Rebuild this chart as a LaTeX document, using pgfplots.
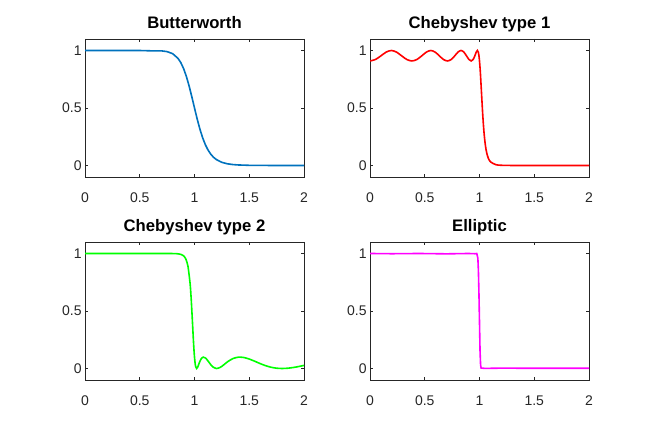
\documentclass[border=0pt]{standalone}
\usepackage{pgfplots}
\pgfplotsset{compat=1.18}
\usepackage{fontspec}
\setmainfont{Liberation Sans}
\definecolor{mblue}{rgb}{0,0.447,0.741}
\definecolor{mred}{rgb}{1,0,0}
\definecolor{mgreen}{rgb}{0,1,0}
\definecolor{mmag}{rgb}{1,0,1}
\definecolor{axgray}{rgb}{0.15,0.15,0.15}
\pgfplotsset{
  sub/.style={
    scale only axis, width=164.25pt, height=103.5pt,
    anchor=south west,
    xmin=0, xmax=2, ymin=-0.1, ymax=1.1,
    xtick={0,0.5,1,1.5,2}, ytick={0,0.5,1},
    tick align=inside, major tick length=2.5pt,
    axis line style={draw=axgray, line width=0.6pt},
    every tick/.style={draw=axgray, line width=0.5pt},
    /pgf/number format/assume math mode=true,
    tick label style={font=\fontsize{10.5}{12}\selectfont, text=axgray},
    xticklabel style={yshift=-8.5pt},
    yticklabel style={xshift=1pt},
    title style={font=\fontsize{12.5}{14}\selectfont\bfseries, text depth=0.25em, text height=0.75em, yshift=-4.5pt},
  }
}
\begin{document}
\begin{tikzpicture}
\useasboundingbox (0pt,0pt) rectangle (487.5pt,320.25pt);
% Butterworth
\begin{axis}[sub, at={(63.75pt,187.5pt)}, title={Butterworth}]
\addplot[mblue, line width=1.2pt] coordinates {
(0,1)(0.3,1)(0.5,0.9998)(0.6,0.9972)(0.7,0.9967)(0.75,0.9901)(0.8,0.9726)(0.85,0.9309)(0.875,0.8944)(0.9,0.8437)(0.925,0.7768)(0.95,0.6944)(0.975,0.5999)(1.0,0.5)(1.025,0.4025)(1.05,0.3142)(1.075,0.2392)(1.1,0.1787)(1.125,0.1319)(1.15,0.0965)(1.175,0.0704)(1.2,0.0513)(1.25,0.0274)(1.3,0.0148)(1.35,0.0081)(1.4,0.0046)(1.5,0.0015)(1.6,0.0005)(1.8,0.0001)(2,0)
};
\end{axis}
% Chebyshev type 1
\begin{axis}[sub, at={(277.5pt,187.5pt)}, title={Chebyshev type 1}]
\addplot[mred, line width=1.2pt, smooth, tension=0.5] coordinates {
(0,0.90909)(0.04907,0.92141)(0.09802,0.95238)(0.14673,0.98557)(0.19509,1)(0.24298,0.98557)(0.29028,0.95238)(0.33689,0.92141)(0.38268,0.90909)(0.42756,0.92141)(0.47140,0.95238)(0.51410,0.98557)(0.55557,1)(0.59570,0.98557)(0.63439,0.95238)(0.67156,0.92141)(0.70711,0.90909)(0.74095,0.92141)(0.77301,0.95238)(0.80321,0.98557)(0.83147,1)(0.85773,0.98557)(0.88192,0.95238)(0.90399,0.92141)(0.92388,0.90909)(0.94154,0.92141)(0.95694,0.95238)(0.97003,0.98557)(0.98079,1)(0.98918,0.98557)(0.99518,0.95238)(0.99880,0.92141)(1.0,0.90909)(1.005,0.8483)(1.01,0.7738)(1.02,0.602)(1.03,0.435)(1.04,0.301)(1.05,0.204)(1.06,0.1377)(1.07,0.0937)(1.08,0.0646)(1.1,0.0320)(1.15,0.0069)(1.2,0.0019)(1.3,0.0002)(1.5,0)(2,0)
};
\end{axis}
% Chebyshev type 2
\begin{axis}[sub, at={(63.75pt,35.25pt)}, title={Chebyshev type 2}]
\addplot[mgreen, line width=1.2pt, smooth, tension=0.4] coordinates {
(0,1)(0.5,1)(0.8,0.9995)(0.85,0.9969)(0.88,0.9907)(0.9,0.980)(0.92,0.954)(0.94,0.891)(0.96,0.737)(0.97,0.602)(0.98,0.428)(0.99,0.245)(0.995,0.1647)(1.0,0.099)(1.005,0.0509)(1.01,0.0199)(1.02,0.0)(1.03,0.0138)(1.04,0.0393)(1.05,0.0638)(1.065,0.0897)(1.08,0.0989)(1.1,0.0913)(1.12,0.0700)(1.15,0.0314)(1.17,0.0126)(1.2,0.0)(1.23,0.0073)(1.25,0.019)(1.28,0.0418)(1.3,0.0575)(1.35,0.0860)(1.4,0.0985)(1.45,0.0957)(1.5,0.0822)(1.55,0.0631)(1.6,0.0425)(1.65,0.0243)(1.7,0.0107)(1.75,0.0026)(1.8,0.0)(1.85,0.0023)(1.9,0.0082)(1.95,0.0168)(2.0,0.0268)
};
\end{axis}
% Elliptic
\begin{axis}[sub, at={(277.5pt,35.25pt)}, title={Elliptic}]
\addplot[mmag, line width=1.2pt] coordinates {
(0,1)(0.2,0.998)(0.45,1.0)(0.7,0.997)(0.9,1.0)(0.96,0.998)(0.975,1.0)(0.985,0.96)(0.99,0.85)(0.995,0.65)(1.0,0.4)(1.005,0.15)(1.01,0.03)(1.015,0.004)(1.05,0.001)(1.2,0.003)(1.5,0.002)(2,0.002)
};
\end{axis}
\end{tikzpicture}
\end{document}
